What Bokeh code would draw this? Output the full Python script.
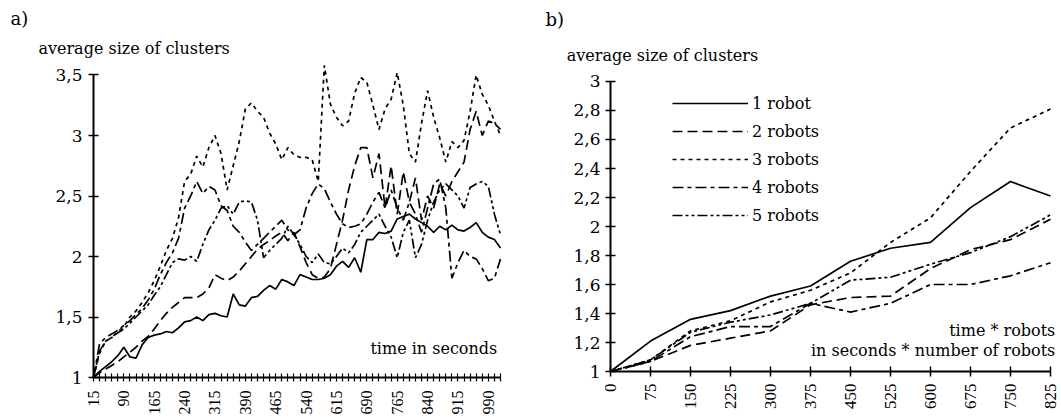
from bokeh.plotting import figure
from bokeh.layouts import row
from bokeh.models import FixedTicker, Label, Legend, LegendItem, Range1d, CustomJSTickFormatter
from bokeh.embed import file_html
from bokeh.resources import INLINE
from math import pi

# ---------------- data ----------------
# a) average size of clusters over time (seconds)
time_a = list(range(15, 1021, 15))
a_1robot = [1.0, 1.05, 1.09, 1.13, 1.18, 1.25, 1.17, 1.16, 1.27, 1.33, 1.35, 1.36, 1.38, 1.37, 1.41, 1.46, 1.47,
            1.50, 1.47, 1.52, 1.53, 1.51, 1.50, 1.69, 1.60, 1.59, 1.66, 1.67, 1.72, 1.76, 1.73, 1.81, 1.79, 1.76,
            1.85, 1.83, 1.81, 1.81, 1.82, 1.85, 1.92, 1.96, 1.91, 1.99, 1.87, 2.14, 2.14, 2.20, 2.19, 2.21, 2.31,
            2.33, 2.35, 2.31, 2.28, 2.25, 2.20, 2.25, 2.22, 2.26, 2.22, 2.21, 2.24, 2.28, 2.20, 2.16, 2.14, 2.07]
a_2robots = [1.0, 1.04, 1.07, 1.10, 1.13, 1.17, 1.21, 1.25, 1.30, 1.34, 1.40, 1.47, 1.53, 1.58, 1.62, 1.66, 1.66,
             1.66, 1.69, 1.74, 1.85, 1.82, 1.80, 1.83, 1.88, 1.94, 2.00, 2.06, 2.10, 2.13, 2.17, 2.20, 2.13, 2.20,
             2.08, 1.95, 1.85, 1.82, 1.83, 1.90, 2.10, 2.30, 2.55, 2.75, 2.90, 2.90, 2.65, 2.85, 2.40, 2.75, 2.35,
             2.70, 2.45, 2.65, 2.30, 2.50, 2.40, 2.60, 2.50, 2.62, 2.70, 2.78, 3.05, 3.20, 3.00, 3.12, 3.10, 3.05]
a_3robots = [1.0, 1.20, 1.30, 1.33, 1.38, 1.42, 1.50, 1.55, 1.62, 1.70, 1.80, 1.92, 2.05, 2.15, 2.32, 2.62, 2.68,
             2.83, 2.74, 2.90, 3.00, 2.85, 2.55, 2.75, 2.95, 3.22, 3.27, 3.20, 3.15, 3.02, 2.93, 2.80, 2.90, 2.84,
             2.82, 2.82, 2.80, 2.62, 3.58, 3.26, 3.15, 3.08, 3.12, 3.35, 3.48, 3.44, 3.25, 3.05, 3.22, 3.30, 3.52,
             3.25, 2.85, 2.78, 3.10, 3.37, 3.15, 2.98, 2.78, 2.95, 2.90, 2.96, 3.20, 3.50, 3.34, 3.25, 3.12, 3.00]
a_4robots = [1.0, 1.28, 1.33, 1.36, 1.39, 1.43, 1.47, 1.52, 1.57, 1.64, 1.73, 1.85, 1.95, 2.03, 2.15, 2.40, 2.50,
             2.62, 2.52, 2.58, 2.55, 2.42, 2.38, 2.25, 2.20, 2.12, 2.05, 2.10, 2.15, 2.20, 2.25, 2.30, 2.22, 2.18,
             2.22, 2.40, 2.52, 2.60, 2.56, 2.45, 2.35, 2.27, 2.24, 2.25, 2.27, 2.35, 2.45, 2.53, 2.40, 2.55, 2.40,
             2.30, 2.45, 2.35, 2.20, 2.40, 2.60, 2.64, 2.40, 1.82, 1.95, 2.05, 2.00, 1.98, 1.90, 1.80, 1.82, 1.98]
a_5robots = [1.0, 1.22, 1.30, 1.33, 1.37, 1.40, 1.45, 1.50, 1.55, 1.60, 1.68, 1.75, 1.85, 1.95, 1.98, 1.97, 2.00,
             1.96, 2.10, 2.22, 2.30, 2.40, 2.42, 2.35, 2.45, 2.46, 2.45, 2.30, 1.99, 2.05, 2.10, 2.15, 2.25, 2.18,
             2.10, 2.00, 1.95, 2.02, 1.95, 1.94, 2.00, 2.07, 2.03, 2.10, 2.20, 2.25, 2.30, 2.35, 2.25, 2.16, 1.99,
             2.20, 2.30, 1.99, 2.10, 2.30, 2.45, 2.55, 2.60, 2.55, 2.50, 2.40, 2.57, 2.60, 2.62, 2.58, 2.35, 2.18]

# b) average size of clusters over time * robots
time_b = [0, 75, 150, 225, 300, 375, 450, 525, 600, 675, 750, 825]
b_1robot = [1.0, 1.21, 1.36, 1.42, 1.52, 1.59, 1.76, 1.85, 1.89, 2.13, 2.31, 2.21]
b_2robots = [1.0, 1.07, 1.18, 1.23, 1.28, 1.46, 1.51, 1.52, 1.71, 1.84, 1.91, 2.05]
b_3robots = [1.0, 1.08, 1.28, 1.35, 1.48, 1.56, 1.68, 1.89, 2.06, 2.38, 2.68, 2.81]
b_4robots = [1.0, 1.07, 1.24, 1.31, 1.31, 1.47, 1.41, 1.47, 1.60, 1.60, 1.66, 1.75]
b_5robots = [1.0, 1.08, 1.27, 1.34, 1.39, 1.47, 1.63, 1.65, 1.74, 1.82, 1.93, 2.08]

series_names = ["1 robot", "2 robots", "3 robots", "4 robots", "5 robots"]
a_ticks_y = [1, 1.5, 2, 2.5, 3, 3.5]
b_ticks_y = [1, 1.2, 1.4, 1.6, 1.8, 2, 2.2, 2.4, 2.6, 2.8, 3]

# ---------------- style ----------------
FONT = "DejaVu Serif"
TICKFONT = "Liberation Serif"
dashes = ["solid", "10 5", "4 4", "11 4 4 4", "10 3 3 3 3 3"]
LW = 1.7

comma_fmt = CustomJSTickFormatter(code="""
    let s = (Math.round(tick * 10) / 10).toString();
    return s.replace('.', ',');
""")


def style_axes(p, xfs, xstand, ystand):
    for ax in (p.xaxis[0], p.yaxis[0]):
        ax.axis_line_width = 2
        ax.axis_line_color = "black"
        ax.major_tick_line_width = 1.5
        ax.major_tick_line_color = "black"
        ax.major_tick_in = 5
        ax.major_tick_out = 5
        ax.minor_tick_line_color = None
        ax.major_label_text_color = "black"
    p.yaxis[0].major_label_text_font = FONT
    p.yaxis[0].major_label_text_font_size = "17px"
    p.yaxis[0].major_label_standoff = ystand
    p.xaxis[0].major_label_text_font = TICKFONT
    p.xaxis[0].major_label_text_font_size = xfs
    p.xaxis[0].major_label_orientation = pi / 2
    p.xaxis[0].major_label_standoff = xstand
    p.xgrid.visible = False
    p.ygrid.visible = False
    p.outline_line_color = None
    p.background_fill_color = "white"
    p.border_fill_color = "white"
    p.title.visible = False


def txt(p, x, y, s, align="left", size="16px"):
    p.add_layout(Label(x=x, y=y, text=s, text_font=FONT, text_font_size=size,
                       text_align=align, text_baseline="middle", text_color="black"))


# ---------------- panel a ----------------
# frame covers the whole canvas; axes are pinned at the data origin
pa = figure(width=540, height=419, output_backend="svg", toolbar_location=None,
            x_range=Range1d(-214.6, 1118.8), y_range=Range1d(0.6529, 4.1157),
            min_border_left=0, min_border_right=0, min_border_top=0, min_border_bottom=0)
style_axes(pa, "16px", 9, 6)
pa.xaxis[0].fixed_location = 1
pa.xaxis[0].bounds = (15, 1020)
pa.yaxis[0].fixed_location = 15
pa.yaxis[0].bounds = (1, 3.5)
pa.xaxis[0].ticker = FixedTicker(ticks=time_a)
pa.xaxis[0].formatter = CustomJSTickFormatter(code="return ((tick - 15) % 75 == 0) ? String(tick) : '';")
pa.xaxis[0].major_tick_in = 4
pa.xaxis[0].major_tick_out = 4
pa.xaxis[0].major_tick_line_width = 1.2
pa.yaxis[0].ticker = FixedTicker(ticks=a_ticks_y)
pa.yaxis[0].formatter = comma_fmt

for vals, d in zip([a_1robot, a_2robots, a_3robots, a_4robots, a_5robots], dashes):
    pa.line(time_a, vals, line_color="black", line_width=LW, line_dash=d)

txt(pa, -190, 3.97, "a)", size="18px")
txt(pa, -121, 3.72, "average size of clusters")
txt(pa, 1012, 1.24, "time in seconds", align="right")

# ---------------- panel b ----------------
pb = figure(width=521, height=419, output_backend="svg", toolbar_location=None,
            x_range=Range1d(-131.25, 845.6), y_range=Range1d(0.6690, 3.5586),
            min_border_left=0, min_border_right=0, min_border_top=0, min_border_bottom=0)
style_axes(pb, "17px", 7, 5)
pb.xaxis[0].fixed_location = 1
pb.xaxis[0].bounds = (0, 825)
pb.yaxis[0].fixed_location = 0
pb.yaxis[0].bounds = (1, 3)
pb.xaxis[0].ticker = FixedTicker(ticks=time_b)
pb.yaxis[0].ticker = FixedTicker(ticks=b_ticks_y)
pb.yaxis[0].formatter = comma_fmt

items = []
for vals, d, name in zip([b_1robot, b_2robots, b_3robots, b_4robots, b_5robots], dashes, series_names):
    r = pb.line(time_b, vals, line_color="black", line_width=LW, line_dash=d)
    items.append(LegendItem(label=name, renderers=[r]))

legend = Legend(items=items, location=(132, 194), glyph_width=76, glyph_height=20,
                label_height=20, spacing=8, padding=0, margin=0, label_standoff=4,
                label_text_font=FONT, label_text_font_size="16px", label_text_color="black",
                border_line_color=None, background_fill_alpha=0)
pb.add_layout(legend, "center")

txt(pb, -122, 3.43, "b)", size="18px")
txt(pb, -82, 3.18, "average size of clusters")
txt(pb, 834, 1.28, "time * robots", align="right")
txt(pb, 834, 1.145, "in seconds * number of robots", align="right")

layout = row(pa, pb)
open("out.html", "w").write(file_html(layout, INLINE))
